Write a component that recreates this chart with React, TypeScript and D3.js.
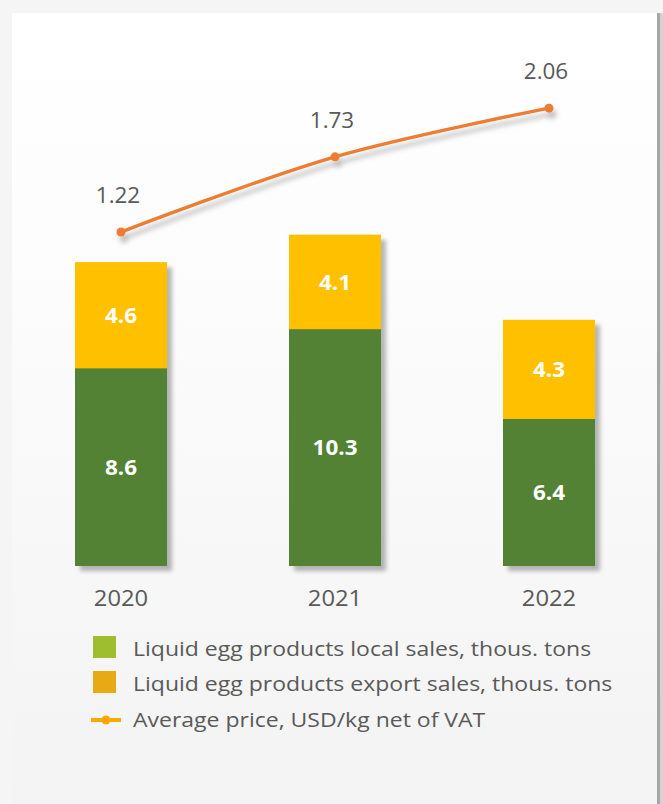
import React from "react";
import * as d3 from "d3";

const years = ["2020", "2021", "2022"];
const localSales = [8.6, 10.3, 6.4];
const exportSales = [4.6, 4.1, 4.3];
const avgPrice = [1.22, 1.73, 2.06];
const priceLabels = ["1.22", "1.73", "2.06"];
const legendLabels = [
  "Liquid egg products local sales, thous. tons",
  "Liquid egg products export sales, thous. tons",
  "Average price, USD/kg net of VAT",
];

const W = 663;
const H = 804;
const FONT = "'Open Sans', 'Noto Sans', sans-serif";

function SText(props: {
  x: number;
  y: number;
  sx: number;
  children: React.ReactNode;
  [k: string]: any;
}) {
  const { x, y, sx, children, ...rest } = props;
  return (
    <text transform={`translate(${x},${y}) scale(${sx},1)`} {...rest}>
      {children}
    </text>
  );
}

export default function App() {
  const x = d3.scalePoint<string>().domain(years).range([121, 549]);
  const yBar = d3.scaleLinear().domain([0, 15]).range([566, 221]);
  const yLine = d3.scaleLinear().domain([0, 2.5]).range([412, 43.25]);
  const barW = 92;

  const pts: [number, number][] = years.map((yr, i) => [x(yr)!, yLine(avgPrice[i])]);
  const line = d3.line().curve(d3.curveCatmullRom.alpha(0.5))(pts) || "";

  return (
    <svg
      width={W}
      height={H}
      style={{ position: "absolute", left: 0, top: 0, display: "block" }}
      fontFamily={FONT}
    >
      <defs>
        <linearGradient id="panelGrad" x1="0" y1="0" x2="0" y2="1">
          <stop offset="0" stopColor="#ffffff" />
          <stop offset="0.35" stopColor="#fcfcfc" />
          <stop offset="1" stopColor="#f3f3f3" />
        </linearGradient>
        <filter id="shadow" x="-20%" y="-20%" width="150%" height="150%">
          <feDropShadow dx="5" dy="5" stdDeviation="2" floodColor="#000" floodOpacity="0.28" />
        </filter>
        <filter id="lineShadow" x="-10%" y="-50%" width="130%" height="200%">
          <feDropShadow dx="3" dy="6" stdDeviation="2.5" floodColor="#000" floodOpacity="0.25" />
        </filter>
      </defs>
      <rect x={0} y={0} width={W} height={H} fill="#f5f5f5" />
      <rect x={12} y={13} width={645} height={H - 13} fill="url(#panelGrad)" />
      <rect x={657} y={13} width={3} height={H - 13} fill="#a6a6a6" />
      <rect x={660} y={13} width={3} height={H - 13} fill="#d4d4d4" />

      {/* bars */}
      {years.map((yr, i) => {
        const cx = x(yr)!;
        const g0 = yBar(0);
        const g1 = yBar(localSales[i]);
        const e1 = yBar(localSales[i] + exportSales[i]);
        return (
          <g key={yr}>
            <g filter="url(#shadow)">
              <rect x={cx - barW / 2} y={e1} width={barW} height={g0 - e1} fill="#FFC000" />
            </g>
            <rect x={cx - barW / 2} y={g1} width={barW} height={g0 - g1} fill="#548235" />
            <rect x={cx - barW / 2} y={e1} width={barW} height={g1 - e1} fill="#FFC000" />
            <SText
              x={cx}
              y={(g0 + g1) / 2}
              sx={1.07}
              dy="0.36em"
              textAnchor="middle"
              fill="#ffffff"
              fontWeight="bold"
              fontSize={21}
            >
              {localSales[i].toFixed(1)}
            </SText>
            <SText
              x={cx}
              y={(g1 + e1) / 2}
              sx={1.07}
              dy="0.36em"
              textAnchor="middle"
              fill="#ffffff"
              fontWeight="bold"
              fontSize={21}
            >
              {exportSales[i].toFixed(1)}
            </SText>
            <SText x={cx} y={606} sx={1.08} textAnchor="middle" fill="#595959" fontSize={22}>
              {yr}
            </SText>
          </g>
        );
      })}

      {/* line */}
      <g filter="url(#lineShadow)">
        <path d={line} fill="none" stroke="#ED7D31" strokeWidth={3.5} strokeLinecap="round" />
        {pts.map((p, i) => (
          <circle key={i} cx={p[0]} cy={p[1]} r={4.5} fill="#ED7D31" />
        ))}
      </g>
      {pts.map((p, i) => (
        <SText
          key={"pl" + i}
          x={p[0] - 3}
          y={p[1] - 29}
          sx={1.07}
          textAnchor="middle"
          fill="#595959"
          fontSize={21}
        >
          {priceLabels[i]}
        </SText>
      ))}

      {/* legend */}
      <rect x={93} y={636} width={23} height={22} fill="#9EBE2F" />
      <SText x={133} y={656} sx={1.15} fill="#595959" fontSize={20}>
        {legendLabels[0]}
      </SText>
      <rect x={93} y={671} width={23} height={22} fill="#E8AA14" />
      <SText x={133} y={691} sx={1.15} fill="#595959" fontSize={20}>
        {legendLabels[1]}
      </SText>
      <line x1={91} x2={121} y1={720} y2={720} stroke="#FFA800" strokeWidth={4} />
      <circle cx={106} cy={720} r={4.5} fill="#FFA800" />
      <SText x={133} y={727} sx={1.15} fill="#595959" fontSize={20}>
        {legendLabels[2]}
      </SText>
    </svg>
  );
}
